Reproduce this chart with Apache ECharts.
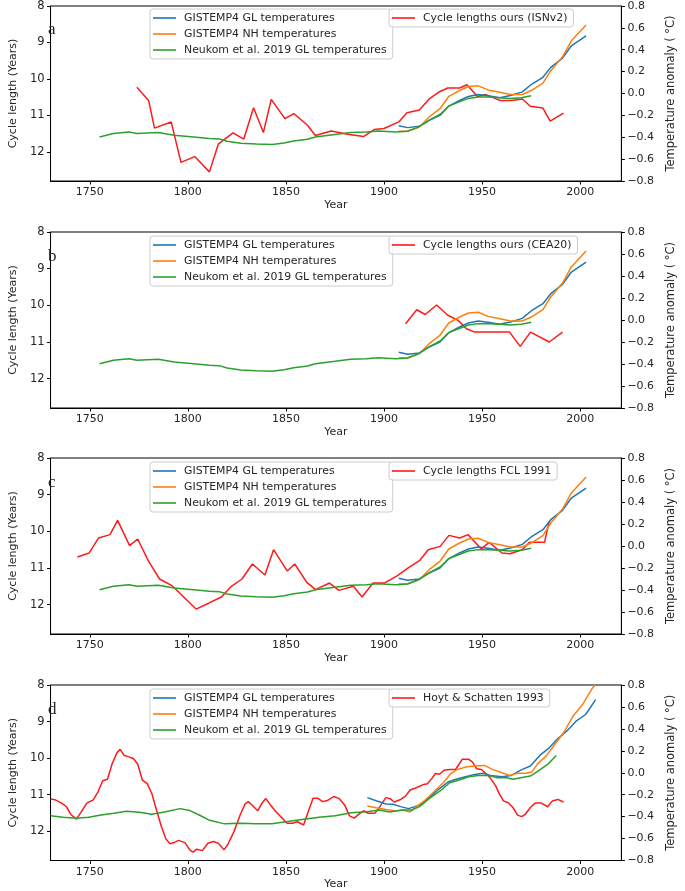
<!DOCTYPE html>
<html><head><meta charset="utf-8">
<script src="https://cdn.jsdelivr.net/npm/echarts@6/dist/echarts.min.js"></script>
<style>html,body{margin:0;padding:0;background:#fff}#c{width:685px;height:891px}</style>
</head><body><div id="c"></div>
<script>
// ---- tick labels ----
const xTickLabels = [1750, 1800, 1850, 1900, 1950, 2000];
const cycleTicks = [8, 9, 10, 11, 12];
const panelLetters = ['a', 'b', 'c', 'd'];
const glName = 'GISTEMP4 GL temperatures';
const nhName = 'GISTEMP4 NH temperatures';
const neuName = 'Neukom et al. 2019 GL temperatures';
const redNames = ['Cycle lengths ours (ISNv2)', 'Cycle lengths ours (CEA20)', 'Cycle lengths FCL 1991', 'Hoyt & Schatten 1993'];

// ---- temperatures, panels a-c ----
const tempYears = [1907.5,1912,1918,1923,1928.5,1933,1938.5,1943,1948,1953,1959,1964.5,1970.5,1975,1981,1985,1991,1995.5,2003];
const glTemp = [-0.294,-0.312,-0.300,-0.245,-0.200,-0.115,-0.064,-0.027,-0.009,-0.021,-0.039,-0.018,0.015,0.082,0.148,0.239,0.324,0.436,0.527];
const nhTemp = [-0.345,-0.343,-0.306,-0.215,-0.139,-0.027,0.027,0.064,0.070,0.033,0.012,-0.009,-0.009,0.027,0.094,0.209,0.336,0.482,0.627];
const neukomYears = [1755,1762,1770,1774,1785,1793,1803,1811,1816,1820,1827,1835,1843,1849,1854,1861,1865,1875,1883,1891,1897,1906,1912,1917,1923,1929,1933,1938,1943,1948,1953,1959,1964,1970,1975];
const neukomTemp = [-0.397,-0.366,-0.352,-0.366,-0.357,-0.382,-0.397,-0.412,-0.415,-0.436,-0.455,-0.461,-0.466,-0.452,-0.434,-0.418,-0.397,-0.375,-0.357,-0.352,-0.343,-0.352,-0.345,-0.312,-0.245,-0.185,-0.115,-0.079,-0.045,-0.033,-0.033,-0.039,-0.045,-0.039,-0.021];

// ---- cycle lengths ----
const isnYears = [1774,1780,1783,1791.5,1796.5,1803.5,1811,1815.5,1823,1828.5,1833.5,1838.5,1842.5,1849.5,1854,1861,1865,1873,1881.5,1889.5,1895,1900,1907.5,1911.7,1918,1923,1928,1932.5,1938.5,1942.3,1947.6,1952,1959,1965,1970.5,1974.6,1981,1984.7,1991.5];
const isnCycle = [10.23,10.59,11.35,11.18,12.29,12.13,12.55,11.79,11.48,11.65,10.79,11.47,10.56,11.09,10.95,11.27,11.55,11.43,11.52,11.58,11.39,11.36,11.18,10.93,10.85,10.55,10.36,10.25,10.25,10.16,10.48,10.43,10.59,10.59,10.55,10.75,10.80,11.16,10.94];
const ceaYears = [1911,1916.7,1921,1926.8,1932.5,1937.8,1942,1946.2,1952.5,1957.8,1964,1969.4,1974.7,1984.2,1991];
const ceaCycle = [10.50,10.12,10.25,9.99,10.27,10.41,10.64,10.73,10.73,10.73,10.73,11.12,10.73,11.0,10.73];
const fclYears = [1743.7,1749.7,1754.5,1760.3,1764.2,1770.3,1774.4,1780,1785.6,1792.1,1804.2,1810.6,1817.1,1822.2,1827.6,1832.9,1839.3,1843.7,1850.6,1854.5,1860.6,1865.1,1872.2,1877,1884.4,1888.8,1894.4,1900.1,1906.9,1912.5,1918.1,1922.5,1928.6,1933.1,1938.6,1942.8,1949.6,1953.6,1960.1,1964.1,1970.5,1974.1,1981.8,1984.2];
const fclCycle = [10.70,10.59,10.18,10.09,9.70,10.39,10.21,10.82,11.30,11.49,12.12,11.96,11.79,11.50,11.30,10.89,11.19,10.50,11.08,10.89,11.39,11.59,11.41,11.61,11.50,11.79,11.41,11.41,11.21,10.99,10.80,10.50,10.41,10.11,10.18,10.09,10.48,10.30,10.59,10.61,10.50,10.30,10.30,9.73];
const hsYears = [1730,1732.4,1735.7,1738.1,1740.5,1743.2,1745.4,1748.5,1751.8,1754.2,1756.6,1759,1761.5,1763.9,1765.5,1767.4,1769.5,1772.2,1774.4,1776.8,1779.2,1781.6,1784,1786.5,1788.9,1791,1792.9,1795.3,1798.5,1801,1802.6,1804.5,1807.4,1810.2,1813.1,1815.8,1818.4,1820.3,1823.5,1826.7,1829.2,1830.8,1833.2,1835.6,1837.7,1839.7,1842.1,1844.8,1847.7,1850.6,1853.3,1855.8,1859,1861.4,1863.8,1866.3,1868.7,1871.1,1874.3,1877,1879.9,1882.4,1884.8,1887.2,1889.6,1892,1895.3,1897.7,1900.9,1903.1,1905.2,1908.5,1910.9,1913.3,1916.5,1919.7,1922.1,1924.6,1926.2,1928.3,1930.6,1933.5,1936.4,1938.6,1939.9,1943.1,1945.1,1947.2,1949.6,1952,1954.4,1956.9,1958.9,1960.9,1963.3,1965.7,1968.1,1970.2,1972.1,1974.6,1977,1980.2,1983.4,1985.8,1988.6,1991.5];
const hsCycle = [11.12,11.14,11.23,11.33,11.55,11.67,11.49,11.23,11.14,10.92,10.62,10.58,10.14,9.85,9.76,9.92,9.96,10.01,10.16,10.60,10.69,10.96,11.42,11.87,12.22,12.34,12.31,12.25,12.31,12.51,12.57,12.49,12.53,12.33,12.28,12.34,12.51,12.37,12.01,11.55,11.25,11.19,11.31,11.44,11.24,11.10,11.28,11.46,11.62,11.78,11.78,11.74,11.83,11.46,11.10,11.10,11.19,11.16,11.05,11.10,11.28,11.58,11.64,11.53,11.44,11.51,11.51,11.34,11.08,11.11,11.20,11.13,11.04,10.87,10.81,10.73,10.70,10.54,10.42,10.44,10.33,10.31,10.31,10.14,10.03,10.03,10.11,10.29,10.31,10.42,10.56,10.76,10.99,11.17,11.22,11.35,11.56,11.60,11.53,11.35,11.23,11.23,11.33,11.17,11.13,11.20];

// ---- temperatures, panel d ----
const dGlYears = [1891.5,1896,1901,1904.5,1908.5,1912.5,1915.7,1919,1923,1927.8,1932.6,1936.7,1941.5,1946.3,1950.4,1954.4,1960.1,1964.9,1969.7,1974.6,1979.4,1984.2,1988.2,1993.1,1997.9,2002.8,2007.9];
const dGlTemp = [-0.227,-0.255,-0.285,-0.288,-0.309,-0.327,-0.309,-0.288,-0.227,-0.151,-0.085,-0.060,-0.036,-0.015,-0.005,-0.024,-0.036,-0.024,0.024,0.061,0.158,0.227,0.304,0.379,0.470,0.531,0.667];
const dNhYears = [1891.5,1896,1901,1906,1909.3,1913.3,1916.5,1920.5,1925.3,1930.2,1934.2,1937.5,1942.3,1946.3,1951.2,1955.2,1960.1,1964.1,1968.1,1972.2,1975.3,1978.5,1982.6,1986.6,1991.5,1996.3,2001.2,2006.3,2007.6];
const dNhTemp = [-0.303,-0.320,-0.336,-0.348,-0.339,-0.357,-0.309,-0.257,-0.175,-0.091,-0.005,0.031,0.055,0.061,0.067,0.031,0.0,-0.024,-0.005,-0.005,0.006,0.085,0.152,0.249,0.364,0.515,0.622,0.773,0.80];
const dNeukomYears = [1730,1736.5,1742.9,1749.4,1755.8,1762.3,1768.7,1775.2,1781.6,1788.1,1796.1,1801,1805.8,1810.6,1818.7,1826.7,1834.8,1842.8,1850.9,1859,1867,1875.1,1883.2,1891.2,1897.7,1902.8,1909.3,1914.1,1918.1,1923,1928.6,1933.5,1938.3,1943.1,1948,1952.8,1957.7,1962.5,1965.7,1969.7,1974.6,1978.5,1983.4,1987.8];
const dNeukomTemp = [-0.391,-0.405,-0.415,-0.405,-0.385,-0.369,-0.351,-0.360,-0.378,-0.357,-0.327,-0.345,-0.385,-0.430,-0.466,-0.460,-0.466,-0.466,-0.445,-0.424,-0.405,-0.391,-0.364,-0.355,-0.339,-0.357,-0.339,-0.339,-0.309,-0.236,-0.166,-0.091,-0.066,-0.036,-0.024,-0.024,-0.045,-0.045,-0.060,-0.045,-0.030,0.015,0.076,0.158];

// ---- build ----
const F = 'DejaVu Sans';
const TXT = '#262626';
const C_BLUE = '#1f77b4', C_ORANGE = '#ff7f0e', C_GREEN = '#2ca02c', C_RED = '#ff1a1a';
const pair = (xs, ys) => xs.map((x, i) => [x, ys[i]]);
const tops = [5, 232, 458, 685];
const H = 176;

const redData = [pair(isnYears, isnCycle), pair(ceaYears, ceaCycle), pair(fclYears, fclCycle), pair(hsYears, hsCycle)];
const tempSets = [
  [pair(tempYears, glTemp), pair(tempYears, nhTemp), pair(neukomYears, neukomTemp)],
  [pair(tempYears, glTemp), pair(tempYears, nhTemp), pair(neukomYears, neukomTemp)],
  [pair(tempYears, glTemp), pair(tempYears, nhTemp), pair(neukomYears, neukomTemp)],
  [pair(dGlYears, dGlTemp), pair(dNhYears, dNhTemp), pair(dNeukomYears, dNeukomTemp)]
];

const grid = [], xAxis = [], yAxis = [], series = [], legend = [], graphic = [];
const axLine = { show: true, onZero: false, lineStyle: { color: '#000', width: 1 } };
const legendCommon = {
  orient: 'vertical', icon: 'rect', itemWidth: 23, itemHeight: 1.6, itemGap: 2,
  textStyle: { fontSize: 10.9, fontFamily: F, color: TXT, lineHeight: 14, padding: [0, 0, 0, 3] },
  borderColor: '#cccccc', borderWidth: 1, borderRadius: 3,
  backgroundColor: 'rgba(255,255,255,0.8)', selectedMode: false, z: 10
};

tops.forEach((t, i) => {
  grid.push({ left: 36, top: t, width: 602, height: H, show: true, borderColor: '#000', borderWidth: 1, backgroundColor: 'transparent' });
  xAxis.push({
    gridIndex: i, type: 'value', min: 1730, max: 2021,
    name: 'Year', nameLocation: 'middle', nameGap: 24,
    nameTextStyle: { fontSize: 11, fontFamily: F, color: TXT, verticalAlign: 'middle', align: 'center' },
    axisLine: axLine,
    axisTick: { show: true, customValues: xTickLabels, length: 3.5, lineStyle: { color: '#000' } },
    axisLabel: { customValues: xTickLabels, fontSize: 11, fontFamily: F, color: TXT, margin: 6, formatter: v => String(v) },
    splitLine: { show: false }
  });
  yAxis.push({
    gridIndex: i, type: 'value', position: 'left', inverse: true, min: 8, max: 12.8,
    name: 'Cycle length (Years)', nameLocation: 'middle', nameGap: 29, nameRotate: 90,
    nameTextStyle: { fontSize: 11, fontFamily: F, color: TXT, verticalAlign: 'middle', align: 'center' },
    axisLine: axLine,
    axisTick: { show: true, customValues: cycleTicks, length: 3.5, lineStyle: { color: '#000' } },
    axisLabel: { customValues: cycleTicks, fontSize: 11.5, fontFamily: F, color: TXT, margin: 6, formatter: v => String(v) },
    splitLine: { show: false }
  });
  yAxis.push({
    gridIndex: i, type: 'value', position: 'right', min: -0.8, max: 0.8, interval: 0.2,
    name: 'Temperature anomaly ( \u00B0C)', nameLocation: 'middle', nameGap: 40, nameRotate: 90,
    nameTextStyle: { fontSize: 11.5, fontFamily: F, color: TXT, verticalAlign: 'middle', align: 'center' },
    axisLine: axLine,
    axisTick: { show: true, length: 3.5, lineStyle: { color: '#000' } },
    axisLabel: { fontSize: 11, fontFamily: F, color: TXT, margin: 6,
      formatter: v => (Math.abs(v) < 1e-9 ? '0.0' : v.toFixed(1).replace('-', '\u2212')) },
    splitLine: { show: false }
  });
  series.push({
    name: redNames[i], type: 'line', xAxisIndex: i, yAxisIndex: 2 * i,
    data: redData[i], symbol: 'none', lineStyle: { color: C_RED, width: 1.5 }, itemStyle: { color: C_RED },
    z: 2, animation: false
  });
  const names = [glName, nhName, neuName];
  const cols = [C_BLUE, C_ORANGE, C_GREEN];
  tempSets[i].forEach((d, k) => {
    series.push({
      name: names[k], type: 'line', xAxisIndex: i, yAxisIndex: 2 * i + 1,
      data: d, symbol: 'none', lineStyle: { color: cols[k], width: 1.5 }, itemStyle: { color: cols[k] },
      z: 3, animation: false
    });
  });
  legend.push(Object.assign({}, legendCommon, { data: [glName, nhName, neuName], left: 150, top: t + 4, padding: [2, 6, 2, 3] }));
  legend.push(Object.assign({}, legendCommon, { data: [redNames[i]], left: 389, top: t + 4, padding: [2, 6, 2, 3] }));
  graphic.push({ type: 'text', left: 48, top: t + 16, z: 20,
    style: { text: panelLetters[i], font: '17px "Liberation Serif"', fill: TXT } });
});

const chart = echarts.init(document.getElementById('c'), null, { renderer: 'canvas' });
chart.setOption({ animation: false, backgroundColor: '#fff', grid, xAxis, yAxis, series, legend, graphic });
</script>
</body></html>
